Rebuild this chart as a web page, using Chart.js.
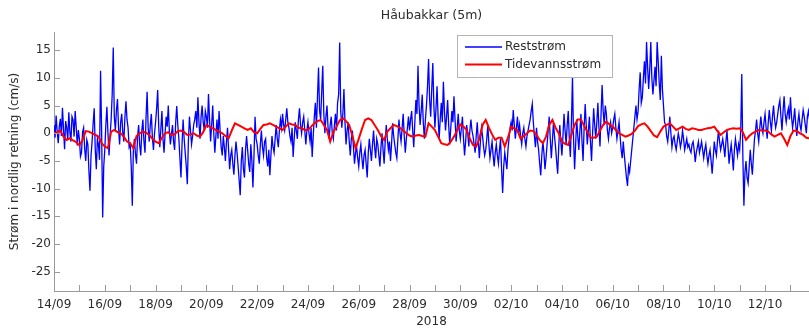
<!DOCTYPE html>
<html>
<head>
<meta charset="utf-8">
<script src="https://cdn.jsdelivr.net/npm/chart.js@4.4.1/dist/chart.umd.min.js"></script>
<style>
    html, body { margin: 0; padding: 0; background: #fff; }
    #wrap { width: 809px; height: 331px; position: relative; }
</style>
</head>
<body>
<div id="wrap"><canvas id="strømChart"></canvas></div>
<script>
// ===============================
//  DATA
// ===============================
// Reststrøm, cm/s, one value every hour from 14/09 00:00 (one row per day)
const reststrom = [
    1.5, -0.8, 3.2, 0.4, -1.8, 1.2, 2.6, -0.5, 4.6, 0.8, -2.9, 2.2, 1.0, -1.2, 3.8, 0.2, -1.5, 3.0, 2.4, -0.6, 4.0, 1.1, -2.2, 0.6,
    -1.0, -4.2, -3.5, 0.2, 1.0, -2.8, -5.0, -1.2, -2.0, -6.8, -10.4, -4.0, -1.5, 1.8, 4.5, -3.0, -6.5, -1.0, -2.0, -4.8, 11.3, 0.5, -15.2, -6.0,
    -3.0, 1.5, 4.8, 0.0, -4.0, -0.5, 2.5, 7.0, 15.5, 3.0, 0.5, 4.2, 6.2, 1.0, -2.0, 2.0, 3.5, 0.2, -1.5, 2.8, 5.8, 2.5, 1.0, -2.5,
    -2.0, -6.0, -13.1, -3.0, -1.0, -3.8, -5.5, -0.5, 1.5, -2.2, -4.0, 0.5, 2.5, -1.5, -3.5, 3.0, 7.5, 1.0, -1.5, 1.5, 3.5, -0.8, -3.0, 0.0,
    2.0, 4.5, 7.8, 1.0, -2.5, 0.8, 4.0, -1.0, -3.5, 0.0, 3.0, 1.2, 5.0, 0.5, -2.0, -0.2, 1.5, -1.5, -3.0, 2.0, 4.9, 1.5, -1.0, -4.5,
    -8.0, -2.0, 2.5, -1.0, -3.5, -6.0, -9.2, -1.5, 3.0, 0.5, -2.0, -0.5, 1.5, 2.5, 4.0, 1.0, 6.5, 2.0, -1.0, 3.0, 5.0, 2.0, 0.5, 4.0,
    3.0, 1.0, 7.1, 2.5, -1.5, 1.5, 5.0, 0.0, -3.5, -0.5, 2.5, -1.0, 4.0, 0.5, -2.5, -4.0, -0.5, -2.5, -5.0, -1.5, 1.0, -3.0, -6.5, -4.0,
    -3.0, -5.5, -7.5, -4.0, -1.5, -3.5, -6.0, -8.5, -11.2, -5.0, -2.5, -6.5, -8.0, -3.0, -0.5, -3.0, -5.5, -7.0, -2.0, -5.0, -9.8, -4.0, 3.0, -1.0,
    -2.0, -4.0, -5.5, -2.0, 0.5, -2.5, -4.0, -1.5, -1.0, -4.5, -6.0, -3.0, -7.6, -4.0, -0.5, -2.5, -3.5, -1.0, 1.5, -1.0, -2.5, 0.5, 2.5, 1.0,
    3.5, 1.5, 0.5, 2.5, 4.5, 2.0, 1.0, -0.5, -1.5, 1.0, -4.3, -1.0, 2.0, 0.5, -1.0, 2.5, 4.5, 1.5, 0.0, 2.0, 3.0, 0.5, -2.0, 0.5,
    2.0, 0.0, -1.5, 1.0, -4.3, -0.5, 3.0, 5.5, 1.0, 6.5, 11.9, 4.0, 2.5, 7.5, 12.2, 3.5, 0.0, 3.0, 5.0, 1.0, -1.0, 1.5, 3.0, 0.0,
    -1.0, 1.5, 3.5, 0.5, 5.5, 7.0, 16.4, 4.0, 1.0, 3.5, 8.0, 2.0, -2.0, 0.5, 2.0, -1.5, -4.0, -1.0, 0.5, -2.5, -5.5, -3.5, -2.5, -4.5,
    -6.0, -3.5, -2.0, -4.5, -6.5, -4.0, -3.0, -5.5, -8.0, -3.5, -1.0, -3.0, -5.0, -2.0, 0.5, -2.5, -4.5, -1.0, -2.0, -4.0, -6.0, -2.5, 0.0, -3.0,
    -5.5, -1.5, 1.5, -1.0, -3.0, -1.5, -5.0, -2.0, 1.8, -0.5, -2.0, -3.5, -4.5, -1.0, 2.5, 0.0, -1.5, 1.0, 3.5, -0.5, -3.5, -1.0, 1.0, 3.0,
    0.5, 2.5, 4.0, 0.5, -2.5, 2.0, 6.0, 3.5, 12.2, 5.0, 1.5, 4.0, 7.0, 2.0, -1.0, 2.5, 5.0, 8.5, 13.4, 6.0, 3.0, 8.0, 12.7, 5.0,
    1.0, 4.5, 8.5, 3.0, -1.0, 2.5, 5.5, 2.0, 9.3, 4.0, 0.5, 3.0, 6.0, 1.5, -2.0, 1.0, 4.0, 2.0, 6.7, 2.5, -1.5, 1.0, 3.5, 0.5,
    -1.0, 1.0, 3.0, -1.0, -4.0, -1.5, 1.5, 0.0, -2.4, 0.5, 2.5, 0.5, -0.5, -2.0, -3.5, -0.5, 2.0, -1.5, -4.5, -1.5, 1.0, -0.5, -2.5, -4.0,
    -3.0, -1.0, 1.5, -2.0, -4.5, -3.0, -1.5, -4.0, -6.0, -3.5, -2.0, -4.0, -5.5, -3.0, -1.0, -6.5, -10.8, -6.0, -3.5, -5.0, -6.5, -3.0, -1.0, 1.0,
    2.0, 0.5, 4.2, 1.5, -1.0, 1.0, 3.0, 0.0, 1.5, -0.5, -2.0, 0.0, 1.0, -1.0, -2.4, -0.5, 0.5, 1.5, 2.5, 4.0, 5.3, 2.0, -0.5, -2.5,
    1.0, -1.5, -3.0, -5.5, -7.6, -4.0, -1.5, -3.5, -6.5, -4.5, -2.0, 0.5, 3.0, -1.0, -4.5, -1.5, 2.0, -0.5, -2.5, -5.0, -7.3, -2.5, 1.5, -1.5,
    -4.0, -0.5, 3.5, 0.5, -2.0, 1.5, 4.0, -1.0, -4.3, 2.0, 10.3, -1.0, -6.5, -2.0, 2.5, -0.5, -3.0, 0.5, 3.5, -1.5, -5.0, 1.0, 5.3, 1.5,
    -2.0, 0.5, 3.0, -1.5, -5.0, 0.0, 4.5, 1.5, -1.0, 2.0, 5.5, 1.0, -2.4, 3.5, 8.7, 4.0, 1.5, 5.0, 3.5, 0.5, -1.0, 1.0, 2.0, 0.0,
    1.0, 2.5, 3.5, 1.0, -1.0, 0.5, 2.0, -0.5, -3.0, -4.5, -1.5, -4.0, -6.0, -8.0, -9.5, -6.0, -7.0, -5.0, -3.0, -1.0, 1.0, 3.0, 5.0, 2.5,
    4.0, 8.0, 11.0, 5.5, 6.5, 10.0, 13.0, 9.0, 16.5, 12.0, 8.0, 11.5, 16.5, 10.0, 7.0, 9.5, 12.0, 8.5, 16.5, 13.0, 9.0, 6.0, 14.0, 8.0,
    5.0, 2.0, 1.5, -0.5, -1.5, 0.5, 3.0, 0.0, -2.5, -1.0, -0.5, -2.0, -3.0, -1.5, 0.0, -1.0, -2.5, -1.5, 0.5, -1.0, -3.0, -2.0, -1.0, -2.5,
    -2.0, -3.0, -3.5, -2.0, -1.5, -3.0, -5.2, -3.5, -2.5, -1.5, -3.5, -2.5, -1.5, -3.0, -4.5, -3.0, -2.0, -4.0, -5.5, -4.0, -3.0, -5.0, -7.3, -4.5,
    -1.5, -3.0, -4.0, -1.5, 0.5, -1.5, -3.0, -2.0, -1.0, -2.5, -4.3, -1.5, 0.5, -2.5, -5.5, -3.5, -2.0, -4.0, -6.7, -3.0, -1.0, -2.5, -4.0, -2.0,
    -3.0, 0.5, 10.7, -4.0, -13.1, -7.0, -5.0, -8.0, -9.0, -6.0, -3.0, -5.5, -7.5, -4.0, -1.0, 0.5, 2.5, 0.0, -1.5, 1.0, 3.0, 1.0, 0.0, 2.0,
    3.5, 1.0, -1.0, 2.0, 4.2, 2.0, 0.5, 3.0, 5.0, 2.5, 1.0, 2.0, 3.5, 5.0, 6.0, 3.0, 0.5, 4.0, 6.7, 3.5, 2.0, 3.5, 4.5, 2.5,
    6.5, 3.0, 1.0, 2.5, 4.5, 1.5, -0.5, 2.0, 3.5, 1.5, 0.5, 2.5, 4.2, 3.0, 1.5, 0.0, 3.0, 4.0, 2.5
];

// Tidevannsstrøm, cm/s, one value every 3 hours from 14/09 00:00
const tidevann = [
    0.0, 0.2, 0.5, -0.6, -1.2, -0.9, -1.3, -1.6,
    -2.2, -1.2, 0.4, 0.3, 0.0, -0.3, -0.6, -1.8,
    -2.4, -2.7, 0.3, 0.6, 0.2, 0.0, -0.6, -1.5,
    -1.8, -2.7, -0.5, 0.0, 0.3, 0.1, -0.3, -1.0,
    -1.5, -1.8, -0.8, 0.0, 0.2, -0.3, -0.2, 0.4,
    0.5, 0.2, -0.3, -0.2, 0.0, -0.4, -0.6, 0.2,
    1.5, 1.2, 0.9, 0.6, 0.3, 0.0, -0.5, -0.9,
    0.5, 1.8, 1.5, 1.2, 0.9, 0.6, 0.9, 0.2,
    0.0, 0.8, 1.5, 1.6, 1.8, 1.5, 1.2, 0.9,
    0.6, 1.2, 1.8, 1.6, 1.5, 1.0, 0.9, 0.6,
    0.6, 1.2, 1.8, 2.2, 2.4, 1.5, 0.6, -1.5,
    0.2, 1.2, 2.3, 2.7, 2.2, 1.5, -0.5, -2.7,
    -1.0, 0.8, 2.4, 2.7, 2.4, 1.5, 0.6, -0.5,
    -1.2, 0.3, 0.9, 1.5, 1.3, 1.0, 0.5, 0.0,
    -0.4, -0.6, -0.4, -0.3, -0.5, -0.6, 1.8, 1.2,
    0.6, -0.6, -1.8, -2.0, -2.1, -1.5, -0.6, 0.5,
    1.6, 1.2, 0.6, -1.0, -2.1, -2.4, -1.0, 1.5,
    2.4, 1.0, -0.2, -1.2, -0.8, -0.8, -2.4, -0.8,
    1.2, 0.9, 0.5, -1.0, -0.5, 0.0, 0.5, 0.4,
    -0.3, -1.2, -1.8, -0.6, 1.5, 2.4, 1.0, 0.0,
    -1.5, -1.9, -2.1, -0.3, 1.5, 2.5, 2.5, 1.3,
    0.3, -0.8, -0.8, -0.6, 0.5, 1.5, 2.1, 1.6,
    1.2, 0.6, 0.0, -0.3, -0.6, -0.4, -0.1, 0.5,
    1.3, 1.6, 1.8, 1.2, 0.4, -0.4, -0.7, 0.3,
    1.2, 1.5, 1.8, 1.2, 0.6, 0.9, 1.2, 0.8,
    0.6, 0.9, 0.8, 0.6, 0.6, 0.8, 0.9, 1.0,
    1.2, 0.4, -0.3, 0.2, 0.6, 0.8, 0.9, 0.8,
    0.9, 0.2, -1.2, -0.5, 0.0, 0.3, 0.6, 0.5,
    0.5, 0.3, -0.2, -0.6, -0.3, 0.0, -1.0, -2.1,
    -0.5, 0.5, 0.4, 0.0, -0.3, -0.8, -0.9
];

const dateLabels = ['14/09', '16/09', '18/09', '20/09', '22/09', '24/09', '26/09', '28/09',
                    '30/09', '02/10', '04/10', '06/10', '08/10', '10/10', '12/10'];
const yTickValues = [15, 10, 5, 0, -5, -10, -15, -20, -25];

const restStepDays = 1 / 24;
const tideStepDays = 3 / 24;

const FONT = "'DejaVu Sans', sans-serif";
const TEXT = '#2b2b2b';
const AXIS = '#9a9a9a';

// ===============================
//  PLUGINS
// ===============================
// MATLAB style tick marks pointing into the plot
const inwardTicks = {
    id: 'inwardTicks',
    afterDraw(chart) {
        const { ctx, chartArea, scales } = chart;
        ctx.save();
        ctx.strokeStyle = AXIS;
        ctx.lineWidth = 1;
        ctx.beginPath();
        scales.x.ticks.forEach(t => {
            const px = Math.round(scales.x.getPixelForValue(t.value)) + 0.5;
            ctx.moveTo(px, chartArea.bottom);
            ctx.lineTo(px, chartArea.bottom - 6);
        });
        scales.y.ticks.forEach(t => {
            const py = Math.round(scales.y.getPixelForValue(t.value)) + 0.5;
            ctx.moveTo(chartArea.left, py);
            ctx.lineTo(chartArea.left + 6, py);
        });
        ctx.stroke();
        ctx.restore();
    }
};

// boxed legend sitting inside the axes
const boxLegend = {
    id: 'boxLegend',
    afterDraw(chart) {
        const { ctx, chartArea } = chart;
        const x0 = chartArea.left + 403, y0 = chartArea.top + 3;
        const w = 155, h = 42;
        ctx.save();
        ctx.fillStyle = '#fff';
        ctx.fillRect(x0, y0, w, h);
        ctx.strokeStyle = '#b4b4b4';
        ctx.lineWidth = 1;
        ctx.strokeRect(x0 + 0.5, y0 + 0.5, w, h);
        ctx.font = '12px ' + FONT;
        ctx.textBaseline = 'middle';
        ctx.fillStyle = TEXT;
        chart.data.datasets.forEach((ds, i) => {
            const ly = y0 + 12 + i * 17.5;
            ctx.strokeStyle = ds.borderColor;
            ctx.lineWidth = ds.borderWidth;
            ctx.beginPath();
            ctx.moveTo(x0 + 8, ly);
            ctx.lineTo(x0 + 45, ly);
            ctx.stroke();
            ctx.fillText(ds.label, x0 + 48, ly);
        });
        ctx.restore();
    }
};

// ===============================
//  CHART
// ===============================
function initChart() {
    const restPoints = reststrom.map((v, i) => ({ x: i * restStepDays, y: v }));
    const tidePoints = tidevann.map((v, i) => ({ x: i * tideStepDays, y: v }));

    new Chart(document.getElementById('strømChart'), {
        type: 'line',
        data: {
            datasets: [
                {
                    label: 'Reststrøm',
                    data: restPoints,
                    borderColor: '#0000ff',
                    borderWidth: 1.3,
                    pointRadius: 0,
                    tension: 0,
                    order: 2
                },
                {
                    label: 'Tidevannsstrøm',
                    data: tidePoints,
                    borderColor: '#ff0000',
                    borderWidth: 2,
                    pointRadius: 0,
                    tension: 0,
                    order: 1
                }
            ]
        },
        options: {
            responsive: true,
            maintainAspectRatio: false,
            animation: false,
            layout: { padding: 0 },
            plugins: {
                legend: { display: false },
                tooltip: { enabled: false },
                title: {
                    display: true,
                    text: 'Håubakkar (5m)',
                    fullSize: false,
                    color: TEXT,
                    font: { family: FONT, size: 12.5, weight: 'normal' },
                    padding: { top: 8, bottom: 9 }
                }
            },
            scales: {
                x: {
                    type: 'linear',
                    min: 0,
                    max: 29.73,
                    grid: { drawOnChartArea: false, drawTicks: false },
                    border: { color: AXIS },
                    afterBuildTicks: (scale) => {
                        const t = [];
                        for (let d = 0; d <= 29; d++) t.push({ value: d });
                        scale.ticks = t;
                    },
                    afterFit: (scale) => { scale.height = 40; },
                    ticks: {
                        autoSkip: false,
                        maxRotation: 0,
                        padding: 7,
                        color: TEXT,
                        font: { family: FONT, size: 12 },
                        callback: (v) => (v % 2 === 0 ? dateLabels[v / 2] : '')
                    },
                    title: {
                        display: true,
                        text: '2018',
                        color: TEXT,
                        font: { family: FONT, size: 12 },
                        padding: { top: 0, bottom: 2 }
                    }
                },
                y: {
                    min: -28.5,
                    max: 18.3,
                    grid: { drawOnChartArea: false, drawTicks: false },
                    border: { color: AXIS },
                    afterBuildTicks: (scale) => {
                        scale.ticks = yTickValues.map(v => ({ value: v }));
                    },
                    afterFit: (scale) => { scale.width = 54; },
                    ticks: {
                        padding: 3,
                        color: TEXT,
                        font: { family: FONT, size: 12 },
                        callback: (v) => String(v)
                    },
                    title: {
                        display: true,
                        text: 'Strøm i nordlig retning (cm/s)',
                        color: TEXT,
                        font: { family: FONT, size: 12 },
                        padding: { top: 8, bottom: 0 }
                    }
                }
            }
        },
        plugins: [inwardTicks, boxLegend]
    });
}

document.addEventListener('DOMContentLoaded', initChart);
</script>
</body>
</html>
